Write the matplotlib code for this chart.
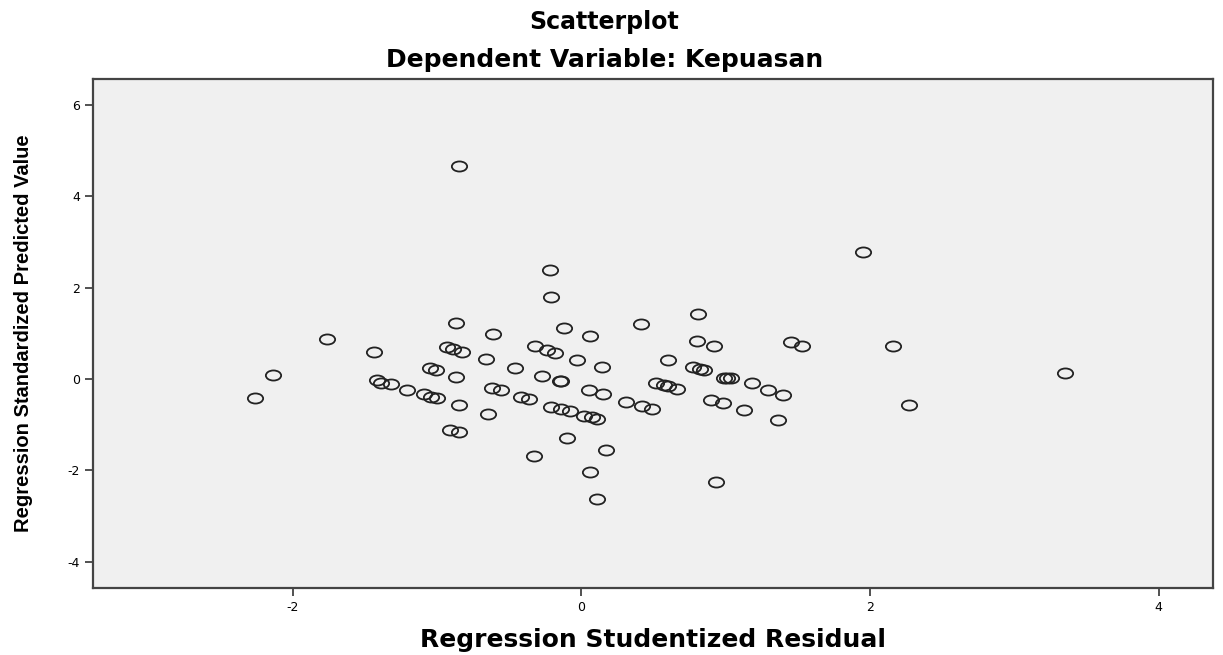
import numpy as np
import matplotlib.pyplot as plt
from matplotlib.path import Path

# data
resid = [-0.85, 1.95, -0.22, -0.21, 0.81, 0.41, -0.87, -0.12, 0.06, -0.61,
         -1.76, 0.80, 0.92, 1.45, 1.53, 2.16, -1.44, -0.93, -0.89, -0.83,
         -0.32, -0.24, -0.18, -0.66, -0.03, 0.60, 0.14, 0.77, 0.82, 0.85,
         -1.05, -1.01, -0.46, 3.35, -2.14, -0.87, -0.27, -0.15, -0.14, 0.99,
         1.01, 1.04, -1.42, -1.39, -1.32, 1.18, -1.21, -0.62, -0.56, 0.05,
         0.52, 0.57, 0.60, 0.66, 1.29, -1.09, -1.04, -1.00, -2.26, -0.42,
         -0.36, 0.15, 1.40, 0.31, 0.90, 0.98, -0.85, 2.27, -0.21, -0.14,
         -0.08, 0.42, 0.49, 1.13, -0.65, 0.02, 0.07, 0.11, 1.36, -0.91,
         -0.85, -0.10, 0.17, -0.33, 0.06, 0.93, 0.11]
pred = [4.67, 2.78, 2.39, 1.79, 1.42, 1.21, 1.23, 1.11, 0.94, 0.99,
        0.88, 0.83, 0.73, 0.80, 0.72, 0.72, 0.60, 0.69, 0.66, 0.60,
        0.72, 0.63, 0.57, 0.44, 0.42, 0.42, 0.27, 0.26, 0.22, 0.20,
        0.23, 0.20, 0.24, 0.14, 0.09, 0.05, 0.07, -0.05, -0.04, 0.03,
        0.02, 0.01, -0.02, -0.09, -0.11, -0.09, -0.24, -0.20, -0.24, -0.25,
        -0.09, -0.14, -0.16, -0.23, -0.25, -0.33, -0.39, -0.41, -0.42, -0.39,
        -0.44, -0.34, -0.36, -0.50, -0.46, -0.53, -0.58, -0.58, -0.61, -0.66,
        -0.70, -0.59, -0.65, -0.69, -0.77, -0.81, -0.84, -0.88, -0.90, -1.12,
        -1.17, -1.30, -1.55, -1.68, -2.04, -2.25, -2.63]
x_ticks = [-2, 0, 2, 4]
y_ticks = [-4, -2, 0, 2, 4, 6]

plt.rcParams['axes.unicode_minus'] = False

# elliptical open marker (the SPSS picture is stretched sideways)
circ = Path.unit_circle()
ellipse = Path(circ.vertices * np.array([1.0, 0.66]), circ.codes)

fig = plt.figure(figsize=(12.23, 6.55), dpi=100)
ax = fig.add_axes([93 / 1223, 1 - 588 / 655, 1120 / 1223, 509 / 655])
ax.set_facecolor('#f0f0f0')

ax.plot(resid, pred, linestyle='none', marker=ellipse, markersize=11,
        markerfacecolor='none', markeredgecolor='#222222', markeredgewidth=1.3)

ax.set_xlim(-3.385, 4.377)
ax.set_ylim(-4.58, 6.57)
ax.set_xticks(x_ticks)
ax.set_yticks(y_ticks)
ax.tick_params(direction='out', length=6, width=1.2, colors='#333333',
               labelsize=9, labelcolor='black')
for lab in ax.get_xticklabels() + ax.get_yticklabels():
    lab.set_family('DejaVu Sans')
for s in ax.spines.values():
    s.set_linewidth(1.6)
    s.set_color('#444444')

ax.set_xlabel('Regression Studentized Residual', family='DejaVu Sans',
              fontsize=18, fontweight='bold', labelpad=10)
ax.set_ylabel('Regression Standardized Predicted Value', family='Liberation Sans',
              fontsize=14.5, fontweight='bold', labelpad=25)

fig.text(0.494, 1 - 22 / 655, 'Scatterplot', family='DejaVu Sans', fontsize=17,
         fontweight='bold', ha='center', va='center')
fig.text(0.494, 1 - 60 / 655, 'Dependent Variable: Kepuasan', family='DejaVu Sans',
         fontsize=18, fontweight='bold', ha='center', va='center')

plt.savefig('out.png', dpi=100)
